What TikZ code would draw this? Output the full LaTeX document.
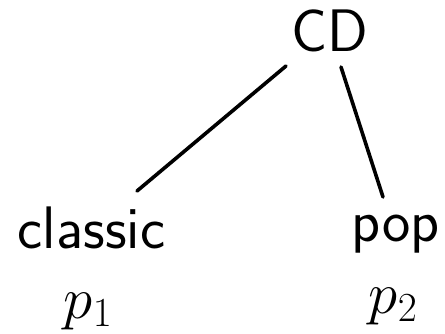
\RequirePackage{fix-cm}
\documentclass[tikz,border=0pt]{standalone}
\begin{document}
\begin{tikzpicture}[x=1pt,y=-1pt,
  lbl/.style={inner sep=0pt,anchor=base,font=\fontsize{60}{62}\selectfont\sffamily},
  mlbl/.style={inner sep=0pt,anchor=base,font=\fontsize{59}{61}\selectfont},
  edge/.style={line width=3.6pt,line cap=round}]
\useasboundingbox (0,0) rectangle (445,334);
\node[lbl] (cd) at (330,52) {CD};
\node[lbl] (classic) at (91.5,248) {classic};
\node[lbl] (pop) at (395.5,241) {pop};
\node[mlbl] (p1) at (88,318) {$p_1$};
\node[mlbl] (p2) at (393,313) {$p_2$};
\coordinate (cdL) at (286,66);
\coordinate (cdR) at (341,67);
\coordinate (clT) at (137,191);
\coordinate (poT) at (383,197);
\draw[edge] (cdL) -- (clT);
\draw[edge] (cdR) -- (poT);
\end{tikzpicture}
\end{document}
